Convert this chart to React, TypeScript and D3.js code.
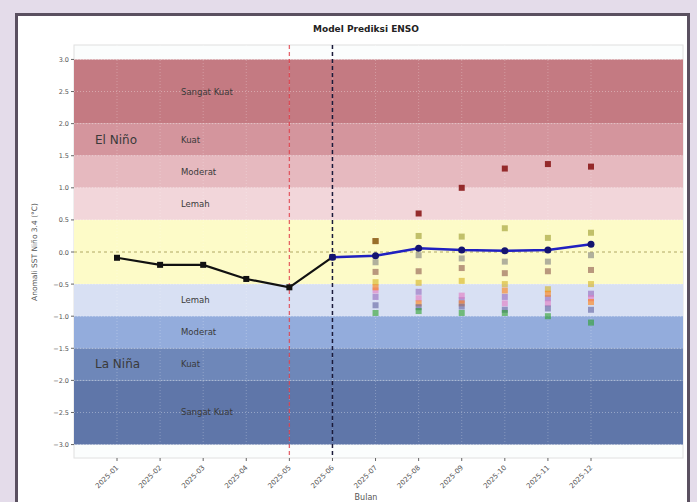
import React from "react";
import * as d3 from "d3";

// Month labels along the x axis
const months = [
  "2025-01", "2025-02", "2025-03", "2025-04", "2025-05", "2025-06",
  "2025-07", "2025-08", "2025-09", "2025-10", "2025-11", "2025-12",
];

// Observed anomaly (first six months)
const observed = [-0.09, -0.2, -0.2, -0.42, -0.55, -0.08];

// Ensemble forecast (from the current month onward)
const forecast = [-0.08, -0.06, 0.06, 0.03, 0.02, 0.03, 0.12];

// Individual model forecasts for months 7..12
const modelNames = ["M1", "M2", "M3", "M4", "M5", "M6", "M7", "M8", "M9", "M10"];
const modelColors = [
  "#8b1a1a", "#9a9a2a", "#7f7f7f", "#8c564b", "#d4b020",
  "#9467bd", "#e377c2", "#ff7f0e", "#6060a0", "#2ca02c",
];
const modelValues = [
  [0.17, 0.6, 1.0, 1.3, 1.37, 1.33],
  [0.17, 0.25, 0.24, 0.37, 0.22, 0.3],
  [-0.16, -0.05, -0.1, -0.15, -0.15, -0.05],
  [-0.31, -0.3, -0.25, -0.33, -0.3, -0.28],
  [-0.47, -0.48, -0.45, -0.5, -0.58, -0.5],
  [-0.7, -0.62, -0.75, -0.7, -0.72, -0.65],
  [-0.6, -0.72, -0.68, -0.8, -0.8, -0.72],
  [-0.55, -0.8, -0.8, -0.6, -0.65, -0.78],
  [-0.83, -0.86, -0.85, -0.9, -0.88, -0.9],
  [-0.95, -0.92, -0.95, -0.95, -1.0, -1.1],
];

// ENSO intensity bands
const bandLow = [2.0, 1.5, 1.0, 0.5, -0.5, -1.0, -1.5, -2.0, -3.0];
const bandHigh = [3.0, 2.0, 1.5, 1.0, 0.5, -0.5, -1.0, -1.5, -2.0];
const bandLabels = ["Sangat Kuat", "Kuat", "Moderat", "Lemah", "", "Lemah", "Moderat", "Kuat", "Sangat Kuat"];
const bandColors = [
  "#c47a82", "#d4959d", "#e6b9bf", "#f2d6da", "#fdfbc8",
  "#d8e0f3", "#93acdc", "#6e87b9", "#5f76a9",
];

const yTicks = [3.0, 2.5, 2.0, 1.5, 1.0, 0.5, 0.0, -0.5, -1.0, -1.5, -2.0, -2.5, -3.0];

const W = 697;
const H = 502;
const plot = { left: 74, right: 683, top: 45, bottom: 458 };

export default function App() {
  const x = d3.scalePoint<string>().domain(months).range([117, 591]);
  const y = d3.scaleLinear().domain([-3.2, 3.2]).range([457.4, 46.6]);

  const line = d3
    .line<[number, number]>()
    .x((d) => d[0])
    .y((d) => d[1]);

  const obsPts: [number, number][] = observed.map((v, i) => [x(months[i])!, y(v)]);
  const fcPts: [number, number][] = forecast.map((v, i) => [x(months[i + 5])!, y(v)]);

  const fmt = (v: number) => (v < 0 ? "\u2212" + Math.abs(v).toFixed(1) : v.toFixed(1));
  const font = "DejaVu Sans, sans-serif";

  return (
    <svg
      width={W}
      height={H}
      style={{ position: "absolute", left: 0, top: 0 }}
      fontFamily={font}
    >
      <rect x={0} y={0} width={W} height={H} fill="#e4dcea" />
      <rect x={16.5} y={14.5} width={672} height={500} fill="#ffffff" stroke="#5a5060" strokeWidth={3} />

      <text x={366} y={32} textAnchor="middle" fontSize={9} fontWeight="bold" fill="#222">
        Model Prediksi ENSO
      </text>

      {/* plot background */}
      <rect x={plot.left} y={plot.top} width={plot.right - plot.left} height={plot.bottom - plot.top} fill="#fbfdfd" stroke="#e0e0e0" />

      {bandLow.map((lo, i) => (
        <rect
          key={"b" + i}
          x={plot.left}
          y={y(bandHigh[i])}
          width={plot.right - plot.left}
          height={y(lo) - y(bandHigh[i])}
          fill={bandColors[i]}
        />
      ))}

      {/* grid */}
      {yTicks.map((t) => (
        <line key={"g" + t} x1={plot.left} x2={plot.right} y1={y(t)} y2={y(t)} stroke="#ffffff" strokeOpacity={0.35} strokeDasharray="1,2" />
      ))}
      {months.map((m) => (
        <line key={"gv" + m} x1={x(m)} x2={x(m)} y1={plot.top} y2={plot.bottom} stroke="#ffffff" strokeOpacity={0.25} strokeDasharray="1,2" />
      ))}
      <line x1={plot.left} x2={plot.right} y1={y(0)} y2={y(0)} stroke="#b0a860" strokeWidth={1} strokeDasharray="3,3" />

      {/* band labels */}
      {bandLabels.map((lab, i) =>
        lab ? (
          <text
            key={"bl" + i}
            x={181}
            y={(y(bandHigh[i]) + y(bandLow[i])) / 2 + 3}
            fontSize={8.5}
            fill="#3a3a3a"
          >
            {lab}
          </text>
        ) : null
      )}
      <text x={95} y={y(1.75) + 4} fontSize={12} fill="#3a3a3a">El Niño</text>
      <text x={95} y={y(-1.75) + 4} fontSize={12} fill="#3a3a3a">La Niña</text>

      {/* reference months */}
      <line x1={x(months[4])} x2={x(months[4])} y1={plot.top} y2={plot.bottom} stroke="#e0404a" strokeWidth={1.3} strokeOpacity={0.8} strokeDasharray="4,3" />
      <line x1={x(months[5])} x2={x(months[5])} y1={plot.top} y2={plot.bottom} stroke="#1a1a3a" strokeWidth={1.5} strokeDasharray="4,3" />

      {/* individual model forecasts */}
      {modelValues.map((vals, mi) =>
        vals.map((v, j) => (
          <rect
            key={modelNames[mi] + j}
            x={x(months[j + 6])! - 3}
            y={y(v) - 3}
            width={6}
            height={6}
            fill={modelColors[mi]}
            fillOpacity={mi === 0 ? 0.9 : 0.6}
          />
        ))
      )}

      {/* observed */}
      <path d={line(obsPts) || ""} fill="none" stroke="#111" strokeWidth={2.2} />
      {obsPts.map((p, i) => (
        <rect key={"o" + i} x={p[0] - 3} y={p[1] - 3} width={6} height={6} fill="#111" />
      ))}

      {/* ensemble forecast */}
      <path d={line(fcPts) || ""} fill="none" stroke="#2020c0" strokeWidth={2.5} />
      {fcPts.map((p, i) => (
        <circle key={"f" + i} cx={p[0]} cy={p[1]} r={3.5} fill="#141470" />
      ))}

      {/* y axis */}
      {yTicks.map((t) => (
        <g key={"yt" + t}>
          <line x1={plot.left - 3} x2={plot.left} y1={y(t)} y2={y(t)} stroke="#666" />
          <text x={plot.left - 5} y={y(t) + 2.5} textAnchor="end" fontSize={6.5} fill="#555">
            {fmt(t)}
          </text>
        </g>
      ))}
      <text
        transform={`translate(37,${y(0)}) rotate(-90)`}
        textAnchor="middle"
        fontSize={7.5}
        fill="#555"
      >
        Anomali SST Niño 3.4 (°C)
      </text>

      {/* x axis */}
      {months.map((m) => (
        <g key={"xt" + m}>
          <line x1={x(m)} x2={x(m)} y1={plot.bottom} y2={plot.bottom + 3} stroke="#666" />
          <text
            transform={`translate(${x(m)! + 2},${plot.bottom + 10}) rotate(-45)`}
            textAnchor="end"
            fontSize={7}
            fill="#555"
          >
            {m}
          </text>
        </g>
      ))}
      <text x={366} y={500} textAnchor="middle" fontSize={8} fill="#555">Bulan</text>
    </svg>
  );
}
